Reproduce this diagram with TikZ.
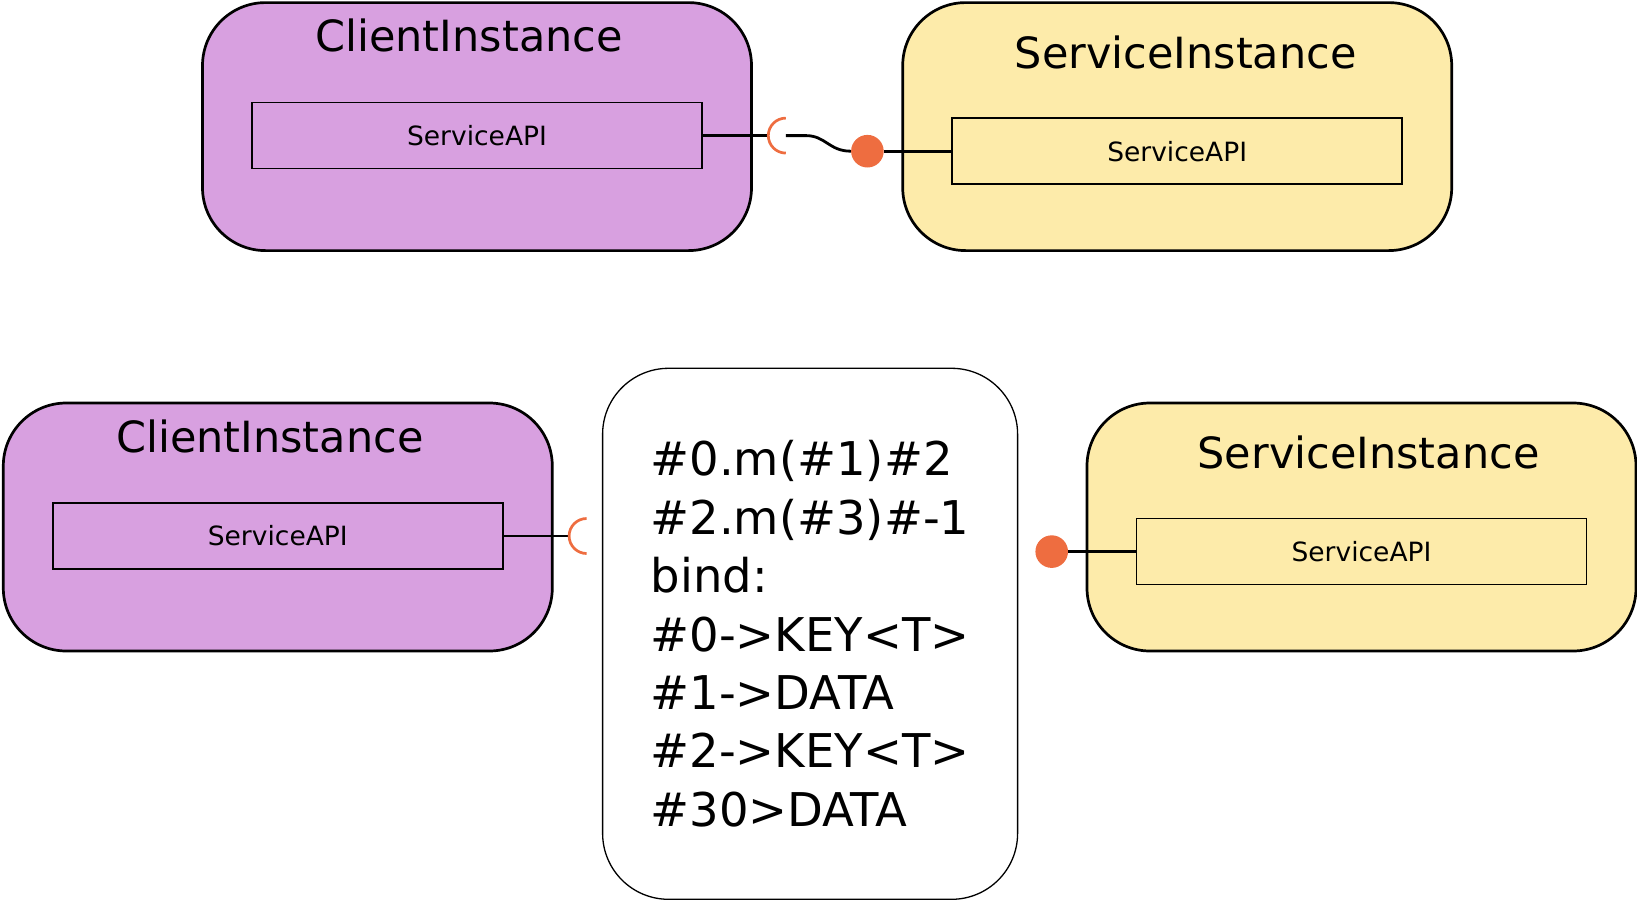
\documentclass[tikz,border=0pt]{standalone}
\usepackage{fontspec}
\setmainfont{DejaVu Sans}
\usepackage{xcolor}
\usepackage{tikz}

\definecolor{clientfill}{RGB}{216,160,224}
\definecolor{servicefill}{RGB}{253,235,170}
\definecolor{plugorange}{RGB}{238,109,64}

\tikzset{
  instbox/.style={draw,line width=2.7pt,rounded corners=63pt,minimum width=549pt,minimum height=248pt,inner sep=0pt},
  clientbox/.style={instbox,fill=clientfill},
  servicebox/.style={instbox,fill=servicefill},
  insttitle/.style={anchor=base,inner sep=0pt,font=\fontsize{43}{52}\selectfont},
  apibox/.style={draw,line width=1.6pt,minimum width=450pt,minimum height=66pt,inner sep=0pt,font=\fontsize{26.5}{32}\selectfont},
  wire/.style={line width=2.8pt},
  socket/.style={draw=plugorange,line width=2.7pt},
  ball/.style={circle,fill=plugorange,minimum size=32.6pt,inner sep=0pt},
  bindbox/.style={draw,line width=1.3pt,rounded corners=66pt,minimum width=415pt,minimum height=531pt,align=left,inner sep=0pt,font=\fontsize{46.5}{58.4}\selectfont}
}

\begin{document}
\begin{tikzpicture}[x=1pt,y=-1pt]
\useasboundingbox (0,0) rectangle (1637,902);

% top row: client wired to service
\node[clientbox] (cli1) at (477,126.6) {};
\node[insttitle] (clititle1) at ([xshift=-8pt,yshift=75pt]cli1.center) {ClientInstance};
\node[apibox] (cliapi1) at ([yshift=-9pt]cli1.center) {ServiceAPI};

\node[servicebox] (srv1) at (1177.2,126.6) {};
\node[insttitle] (srvtitle1) at ([xshift=8.5pt,yshift=58.4pt]srv1.center) {ServiceInstance};
\node[apibox] (srvapi1) at ([yshift=-24.6pt]srv1.center) {ServiceAPI};

\coordinate (sock1) at ([xshift=83pt]cliapi1.east);
\node[ball] (ball1) at ([xshift=-84pt]srvapi1.west) {};
\draw[wire] (cliapi1.east) -- ([xshift=-17.5pt]sock1);
\draw[socket] ([yshift=17.5pt]sock1) arc[start angle=90,end angle=270,radius=17.5pt];
\draw[wire] (sock1) -- ++(20,0) .. controls +(20,0) and +(-22,0) .. (ball1.west);
\draw[wire] (ball1.east) -- (srvapi1.west);

% bottom row: client and service apart, binding in between
\node[clientbox] (cli2) at (277.8,527) {};
\node[insttitle] (clititle2) at ([xshift=-8pt,yshift=75pt]cli2.center) {ClientInstance};
\node[apibox] (cliapi2) at ([yshift=-9pt]cli2.center) {ServiceAPI};

\node[servicebox] (srv2) at (1361.5,527) {};
\node[insttitle] (srvtitle2) at ([xshift=7pt,yshift=58.4pt]srv2.center) {ServiceInstance};
\node[apibox] (srvapi2) at ([yshift=-24.6pt]srv2.center) {ServiceAPI};

\coordinate (sock2) at ([xshift=83pt]cliapi2.east);
\draw[wire] (cliapi2.east) -- ([xshift=-17.5pt]sock2);
\draw[socket] ([yshift=17.5pt]sock2) arc[start angle=90,end angle=270,radius=17.5pt];

\node[ball] (ball2) at ([xshift=-84pt]srvapi2.west) {};
\draw[wire] (ball2.east) -- (srvapi2.west);

\node[bindbox] (bind) at (810.1,633.8) {\#0.m(\#1)\#2\\\#2.m(\#3)\#-1\\bind:\\\#0->KEY<T>\\\#1->DATA\\\#2->KEY<T>\\\#30>DATA};
\end{tikzpicture}
\end{document}
